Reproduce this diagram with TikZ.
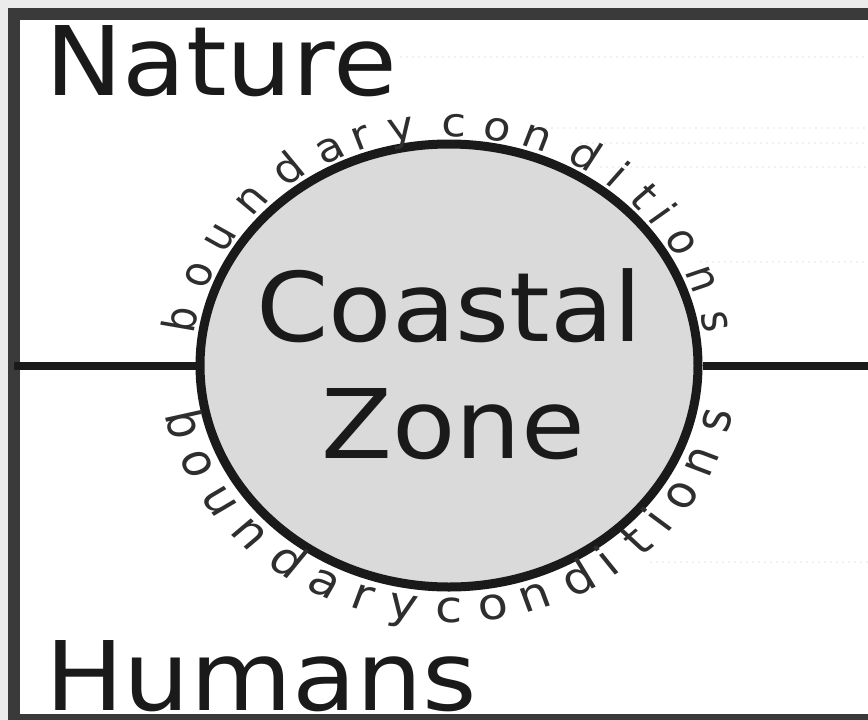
\documentclass[tikz,border=0pt]{standalone}
\usepackage{fontspec}
\setmainfont{DejaVu Sans}
\usetikzlibrary{shapes.geometric}
\definecolor{bgout}{HTML}{EBEBEB}
\definecolor{framec}{HTML}{3A3A3A}
\definecolor{inkc}{HTML}{1A1A1A}
\definecolor{smallink}{HTML}{2E2E2E}
\definecolor{zonefill}{HTML}{DADADA}
\definecolor{ghost}{HTML}{F1F1F1}
\begin{document}
\begin{tikzpicture}[x=1pt,y=1pt,
  bigtext/.style={inner sep=0, text=inkc, font=\fontsize{96}{96}\selectfont},
  toplet/.style={inner sep=0, anchor=base, text=smallink, font=\fontsize{40}{40}\selectfont},
  botlet/.style={inner sep=0, anchor=base, text=smallink, font=\fontsize{44}{44}\selectfont},
  ghostline/.style={ghost, line width=2, dash pattern=on 2pt off 4pt},
  zonebox/.style={ellipse, draw=inkc, fill=zonefill, line width=9, minimum width=498, minimum height=443, inner sep=0},
  divider/.style={inkc, line width=8}
]
\useasboundingbox (0,0) rectangle (868,-720);
\fill[bgout] (0,0) rectangle (868,-720);
\fill[white] (8,-8) rectangle (868,-720);
% faint ghost lines
\draw[ghostline] (400,-57) -- (868,-57);
\draw[ghostline] (545,-128) -- (868,-128);
\draw[ghostline] (580,-143) -- (868,-143);
\draw[ghostline] (600,-167) -- (868,-167);
\draw[ghostline] (700,-262) -- (868,-262);
\draw[ghostline] (650,-562) -- (868,-562);
% frame
\draw[framec, line width=12] (14,-14) rectangle (880,-720);
% circle
\node[zonebox] (cz) at (449,-365.5) {};
\coordinate (lb) at (14,-365.5);
\coordinate (re) at (868,-365.5);
\draw[divider] (lb) -- (cz.west);
\draw[divider] (cz.east) -- (re);
% texts
\node[bigtext, anchor=base, xscale=1.08] (coastal) at (449.5,-341) {Coastal};
\node[bigtext, anchor=base, xscale=1.08] (zone) at (453.5,-458) {Zone};
\node[bigtext, anchor=base west, xscale=1.08] (nature) at (45,-95) {Nature};
\node[bigtext, anchor=base west, xscale=1.09] (humans) at (45,-710) {Humans};
% boundary conditions
\begin{scope}[shift={(449,-365.5)}, xscale=1.124, transform shape]
\foreach \ch/\ang [count=\k] in {b/169.0, o/157.8, u/147.8, n/136.8, d/126.1, a/116.2, r/109.1, y/100.2, c/88.9, o/79.6, n/71.0, d/60.0, i/51.7, t/44.2, i/38.6, o/30.8, n/20.9, s/10.4}
  {\node[toplet, rotate=\ang-90] (tl\k) at (\ang:229) {\ch};}
\foreach \ch/\ang [count=\k] in {b/194.0, o/203.7, u/213.6, n/223.5, d/233.7, a/243.0, r/251.6, y/260.4, c/270, o/279.2, n/288.3, d/298.4, i/305.7, t/313.7, i/320.3, o/327.9, n/336.9, s/346.9}
  {\node[botlet, rotate=\ang+90] (bl\k) at (\ang:257) {\ch};}
\end{scope}
\end{tikzpicture}
\end{document}
